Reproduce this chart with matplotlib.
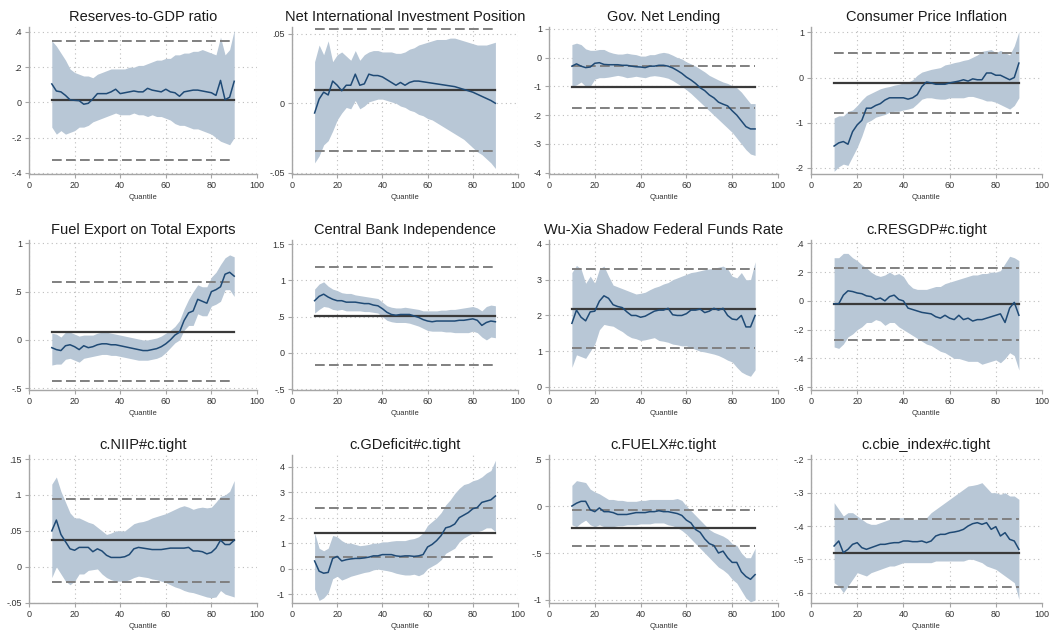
import matplotlib
matplotlib.use("Agg")
import matplotlib.pyplot as plt

plt.rcParams["font.family"] = ["Liberation Sans", "DejaVu Sans"]

# quantiles of the regression (10th .. 90th)
quantiles = list(range(10, 92, 2))

# each panel: quantile coef, lower CI, upper CI, OLS (coef, lo, hi)
resgdp_coef = [0.105, 0.065, 0.06, 0.04, 0.015, 0.012, 0.01, -0.01, -0.005, 0.02,
               0.05, 0.05, 0.05, 0.06, 0.075, 0.05, 0.055, 0.06, 0.065, 0.06,
               0.06, 0.08, 0.07, 0.065, 0.06, 0.075, 0.06, 0.055, 0.035, 0.06,
               0.065, 0.07, 0.07, 0.065, 0.06, 0.055, 0.04, 0.125, 0.015, 0.03,
               0.12]
resgdp_hi = [0.35, 0.32, 0.28, 0.24, 0.19, 0.17, 0.16, 0.15, 0.15, 0.14,
             0.16, 0.17, 0.18, 0.19, 0.19, 0.19, 0.19, 0.2, 0.2, 0.21,
             0.21, 0.22, 0.23, 0.24, 0.24, 0.25, 0.25, 0.27, 0.27, 0.28,
             0.28, 0.29, 0.29, 0.3, 0.29, 0.28, 0.27, 0.37, 0.27, 0.3,
             0.41]
resgdp_lo = [-0.14, -0.18, -0.16, -0.18, -0.17, -0.16, -0.14, -0.14, -0.13, -0.11,
             -0.1, -0.09, -0.08, -0.07, -0.06, -0.07, -0.07, -0.07, -0.06, -0.07,
             -0.07, -0.08, -0.07, -0.08, -0.08, -0.09, -0.1, -0.12, -0.13, -0.13,
             -0.14, -0.15, -0.15, -0.16, -0.17, -0.18, -0.2, -0.22, -0.23, -0.24,
             -0.2]
resgdp_ols = [0.013, -0.326, 0.347]

niip_coef = [-0.007, 0.003, 0.008, 0.006, 0.016, 0.013, 0.009, 0.013, 0.013, 0.021,
             0.013, 0.014, 0.021, 0.02, 0.02, 0.019, 0.017, 0.015, 0.013, 0.015,
             0.013, 0.015, 0.016, 0.016, 0.0155, 0.015, 0.0145, 0.014, 0.0135, 0.013,
             0.0125, 0.012, 0.011, 0.01, 0.009, 0.008, 0.0065, 0.005, 0.0035, 0.002,
             0.0]
niip_hi = [0.03, 0.042, 0.035, 0.045, 0.03, 0.035, 0.037, 0.034, 0.031, 0.038,
           0.031, 0.035, 0.037, 0.038, 0.038, 0.037, 0.037, 0.037, 0.036, 0.036,
           0.037, 0.039, 0.04, 0.042, 0.043, 0.044, 0.045, 0.046, 0.046, 0.046,
           0.047, 0.047, 0.046, 0.045, 0.044, 0.043, 0.042, 0.042, 0.042, 0.043,
           0.044]
niip_lo = [-0.043, -0.038, -0.03, -0.027, -0.02, -0.012, -0.007, -0.003, -0.004, 0.002,
           -0.004, -0.002, 0.001, 0.002, 0.003, 0.003, 0.002, 0.001, 0.0, -0.002,
           -0.003, -0.005, -0.006, -0.008, -0.009, -0.011, -0.012, -0.014, -0.016, -0.018,
           -0.02, -0.022, -0.024, -0.026, -0.029, -0.032, -0.035, -0.037, -0.04, -0.043,
           -0.047]
niip_ols = [0.0096, -0.0344, 0.0534]

gnl_coef = [-0.3, -0.22, -0.3, -0.35, -0.33, -0.2, -0.18, -0.24, -0.25, -0.25,
            -0.25, -0.27, -0.27, -0.3, -0.32, -0.33, -0.35, -0.3, -0.3, -0.27,
            -0.27, -0.3, -0.36, -0.45, -0.55, -0.68, -0.78, -0.9, -1.05, -1.15,
            -1.3, -1.4, -1.55, -1.62, -1.68, -1.85, -2.0, -2.2, -2.4, -2.48,
            -2.48]
gnl_hi = [0.45, 0.5, 0.45, 0.3, 0.25, 0.25, 0.28, 0.28, 0.2, 0.15,
          0.12, 0.12, 0.15, 0.12, 0.1, 0.05, 0.05, 0.1, 0.1, 0.15,
          0.18, 0.15, 0.08, 0.0, -0.05, -0.15, -0.22, -0.3, -0.4, -0.5,
          -0.62, -0.7, -0.78, -0.85, -0.9, -0.98, -1.05, -1.2, -1.4, -1.6,
          -1.6]
gnl_lo = [-1.0, -0.95, -0.85, -1.0, -1.0, -0.75, -0.7, -0.7, -0.68, -0.65,
          -0.62, -0.65, -0.7, -0.68, -0.65, -0.68, -0.7, -0.65, -0.63, -0.65,
          -0.68, -0.72, -0.8, -0.9, -1.0, -1.12, -1.25, -1.4, -1.55, -1.7,
          -1.85, -2.0, -2.15, -2.3, -2.45, -2.6, -2.8, -3.0, -3.2, -3.35,
          -3.4]
gnl_ols = [-1.03, -1.76, -0.29]

cpi_coef = [-1.52, -1.45, -1.42, -1.48, -1.2, -1.05, -0.95, -0.68, -0.68, -0.62,
            -0.58, -0.5, -0.45, -0.45, -0.45, -0.45, -0.48, -0.45, -0.38, -0.2,
            -0.1, -0.12, -0.15, -0.15, -0.15, -0.12, -0.1, -0.08, -0.05, -0.08,
            -0.03, -0.05, -0.05, 0.1, 0.1, 0.05, 0.05, 0.0, -0.05, 0.0,
            0.32]
cpi_hi = [-0.9, -0.85, -0.85, -0.75, -0.72, -0.62, -0.5, -0.4, -0.35, -0.3,
          -0.25, -0.22, -0.2, -0.17, -0.15, -0.12, -0.1, -0.05, 0.05, 0.12,
          0.15, 0.18, 0.2, 0.22, 0.28, 0.3, 0.33, 0.35, 0.38, 0.4,
          0.45, 0.5, 0.58, 0.6, 0.62, 0.55, 0.6, 0.55, 0.5, 0.7,
          1.02]
cpi_lo = [-2.08, -1.98, -1.92, -1.95, -1.75, -1.55, -1.3, -1.0, -0.95, -0.88,
          -0.85, -0.82, -0.77, -0.75, -0.75, -0.72, -0.7, -0.67, -0.58, -0.48,
          -0.45, -0.45, -0.47, -0.48, -0.48, -0.45, -0.45, -0.45, -0.45, -0.42,
          -0.42, -0.45, -0.48, -0.52, -0.52, -0.55, -0.6, -0.65, -0.7, -0.62,
          -0.45]
cpi_ols = [-0.12, -0.78, 0.55]

fuel_coef = [-0.08, -0.1, -0.11, -0.06, -0.05, -0.07, -0.1, -0.06, -0.08, -0.07,
             -0.05, -0.04, -0.04, -0.05, -0.05, -0.06, -0.07, -0.08, -0.09, -0.1,
             -0.11, -0.11, -0.1, -0.09, -0.07, -0.04, 0.0, 0.05, 0.08, 0.2,
             0.28, 0.3, 0.42, 0.4, 0.38, 0.5, 0.52, 0.55, 0.68, 0.7,
             0.66]
fuel_hi = [0.07, 0.06, 0.03, 0.08, 0.08, 0.06, 0.04, 0.05, 0.05, 0.05,
           0.07, 0.08, 0.08, 0.07, 0.06, 0.05, 0.04, 0.03, 0.02, 0.01,
           0.0, 0.0, 0.01, 0.02, 0.04, 0.07, 0.1, 0.14, 0.2, 0.32,
           0.42, 0.5, 0.57, 0.55, 0.55, 0.65, 0.7, 0.78, 0.85, 0.88,
           0.86]
fuel_lo = [-0.26, -0.25, -0.25, -0.2, -0.19, -0.21, -0.23, -0.19, -0.18, -0.17,
           -0.16, -0.15, -0.15, -0.16, -0.16, -0.17, -0.18, -0.19, -0.2, -0.21,
           -0.21, -0.21, -0.2, -0.19, -0.17, -0.13, -0.08, -0.03, 0.0, 0.1,
           0.15, 0.15, 0.27, 0.25, 0.25, 0.35, 0.37, 0.4, 0.52, 0.52,
           0.45]
fuel_ols = [0.083, -0.424, 0.597]

cbi_coef = [0.72, 0.78, 0.81, 0.77, 0.74, 0.72, 0.72, 0.7, 0.7, 0.7,
            0.69, 0.68, 0.68, 0.66, 0.65, 0.61, 0.56, 0.53, 0.52, 0.53,
            0.53, 0.53, 0.51, 0.49, 0.46, 0.44, 0.43, 0.44, 0.44, 0.44,
            0.44, 0.44, 0.45, 0.45, 0.46, 0.47, 0.45, 0.38, 0.42, 0.44,
            0.43]
cbi_hi = [0.88, 0.95, 0.98, 0.92, 0.88, 0.86, 0.83, 0.82, 0.82, 0.8,
          0.79, 0.78, 0.77, 0.76, 0.75, 0.7, 0.65, 0.63, 0.62, 0.62,
          0.63, 0.62, 0.61, 0.6, 0.58, 0.58, 0.58, 0.58, 0.59, 0.59,
          0.6, 0.6, 0.61, 0.62, 0.63, 0.64, 0.62, 0.58, 0.64, 0.66,
          0.65]
cbi_lo = [0.55, 0.6, 0.64, 0.63, 0.6, 0.59, 0.6, 0.58, 0.58, 0.58,
          0.58, 0.57, 0.57, 0.56, 0.55, 0.5, 0.45, 0.43, 0.42, 0.42,
          0.42, 0.41, 0.39, 0.37, 0.34, 0.31, 0.3, 0.3, 0.3, 0.29,
          0.29, 0.28, 0.28, 0.28, 0.28, 0.3, 0.28, 0.22, 0.18, 0.22,
          0.21]
cbi_ols = [0.51, -0.16, 1.18]

wuxia_coef = [1.78, 2.15, 1.95, 1.85, 2.1, 2.12, 2.4, 2.55, 2.48, 2.3,
              2.25, 2.22, 2.1, 2.0, 2.0, 1.95, 1.98, 2.05, 2.12, 2.15,
              2.15, 2.2, 2.02, 2.0, 2.0, 2.05, 2.15, 2.15, 2.18, 2.08,
              2.12, 2.2, 2.15, 2.2, 2.0, 1.9, 1.88, 2.0, 1.68, 1.68,
              2.0]
wuxia_hi = [3.2, 3.4, 3.3, 2.9, 3.1, 2.9, 3.3, 3.38, 3.1, 2.85,
            2.8, 2.75, 2.7, 2.65, 2.6, 2.62, 2.65, 2.72, 2.78, 2.82,
            2.88, 2.92, 3.0, 3.05, 3.1, 3.15, 3.2, 3.22, 3.25, 3.28,
            3.3, 3.32, 3.35, 3.38, 3.3, 3.1, 3.05, 3.2, 3.0, 3.0,
            3.5]
wuxia_lo = [0.55, 0.9, 0.85, 0.8, 1.0, 1.2, 1.6, 1.75, 1.72, 1.7,
            1.62, 1.55, 1.45, 1.38, 1.35, 1.3, 1.32, 1.35, 1.38, 1.3,
            1.28, 1.25, 1.2, 1.18, 1.15, 1.15, 1.1, 1.05, 1.0, 0.98,
            0.95, 0.92, 0.88, 0.82, 0.75, 0.7, 0.55, 0.42, 0.35, 0.3,
            0.48]
wuxia_ols = [2.19, 1.09, 3.29]

resgdp_t_coef = [-0.02, -0.02, 0.04, 0.07, 0.065, 0.055, 0.05, 0.035, 0.03, 0.01,
                 0.02, 0.0, 0.03, 0.04, 0.01, 0.0, -0.05, -0.06, -0.07, -0.08,
                 -0.085, -0.09, -0.11, -0.12, -0.1, -0.12, -0.13, -0.1, -0.13, -0.12,
                 -0.14, -0.13, -0.13, -0.12, -0.11, -0.1, -0.09, -0.15, -0.05, -0.01,
                 -0.1]
resgdp_t_hi = [0.3, 0.3, 0.33, 0.33, 0.3, 0.28, 0.25, 0.23, 0.2, 0.18,
               0.17, 0.18, 0.2, 0.18, 0.19, 0.17, 0.12, 0.09, 0.08, 0.08,
               0.08, 0.09, 0.1, 0.1, 0.12, 0.13, 0.14, 0.15, 0.16, 0.17,
               0.18, 0.18, 0.19, 0.19, 0.2, 0.2, 0.21, 0.26, 0.31, 0.3,
               0.28]
resgdp_t_lo = [-0.32, -0.33, -0.3, -0.25, -0.23, -0.2, -0.18, -0.15, -0.15, -0.13,
               -0.14, -0.17, -0.15, -0.15, -0.18, -0.2, -0.22, -0.24, -0.26, -0.28,
               -0.3, -0.31, -0.33, -0.35, -0.36, -0.38, -0.4, -0.4, -0.41, -0.42,
               -0.42, -0.42, -0.44, -0.43, -0.42, -0.41, -0.43, -0.4, -0.36, -0.38,
               -0.48]
resgdp_t_ols = [-0.025, -0.275, 0.231]

niip_t_coef = [0.05, 0.065, 0.045, 0.035, 0.025, 0.023, 0.027, 0.027, 0.027, 0.021,
               0.025, 0.022, 0.016, 0.013, 0.013, 0.013, 0.014, 0.017, 0.025, 0.027,
               0.026, 0.025, 0.024, 0.024, 0.024, 0.025, 0.026, 0.026, 0.026, 0.026,
               0.027, 0.022, 0.022, 0.021, 0.018, 0.02, 0.026, 0.037, 0.031, 0.031,
               0.037]
niip_t_hi = [0.115, 0.125, 0.105, 0.09, 0.075, 0.068, 0.068, 0.065, 0.062, 0.06,
             0.055, 0.05, 0.045, 0.047, 0.05, 0.05, 0.05, 0.055, 0.06, 0.062,
             0.063, 0.065, 0.068, 0.07, 0.072, 0.074, 0.077, 0.08, 0.083, 0.085,
             0.083, 0.08, 0.082, 0.083, 0.082, 0.083, 0.09, 0.098, 0.1, 0.105,
             0.12]
niip_t_lo = [-0.015, 0.0, -0.01, -0.02, -0.025, -0.02, -0.01, -0.01, -0.005, -0.004,
             -0.003, -0.01, -0.015, -0.018, -0.02, -0.02, -0.02, -0.018, -0.015, -0.013,
             -0.014, -0.015, -0.017, -0.018, -0.02, -0.022, -0.025, -0.028, -0.03, -0.033,
             -0.035, -0.036, -0.038, -0.04, -0.042, -0.043, -0.042, -0.033, -0.038, -0.04,
             -0.042]
niip_t_ols = [0.0376, -0.0205, 0.0943]

gdef_t_coef = [0.3, -0.1, -0.18, -0.15, 0.4, 0.48, 0.3, 0.35, 0.38, 0.4,
               0.4, 0.42, 0.45, 0.5, 0.5, 0.55, 0.55, 0.55, 0.5, 0.48,
               0.5, 0.5, 0.48, 0.5, 0.55, 0.85, 0.95, 1.1, 1.3, 1.6,
               1.65, 1.75, 2.0, 2.1, 2.2, 2.35, 2.4, 2.6, 2.65, 2.7,
               2.85]
gdef_t_hi = [1.4, 0.8, 0.7, 0.8, 1.3, 1.25, 1.1, 1.0, 1.0, 0.95,
             0.9, 0.92, 0.95, 1.0, 1.0, 1.05, 1.05, 1.08, 1.1, 1.1,
             1.1, 1.15, 1.18, 1.25, 1.4, 1.7, 1.85, 2.0, 2.2, 2.5,
             2.7, 2.95, 3.15, 3.3, 3.35, 3.45, 3.5, 3.6, 3.75, 3.85,
             4.25]
gdef_t_lo = [-0.8, -1.25, -1.15, -0.95, -0.4, -0.3, -0.45, -0.38, -0.3, -0.25,
             -0.2, -0.15, -0.12, -0.05, -0.02, -0.05, -0.08, -0.12, -0.18, -0.22,
             -0.25, -0.25, -0.22, -0.28, -0.2, 0.0, 0.1, 0.2, 0.35, 0.6,
             0.7, 0.8, 1.05, 1.2, 1.3, 1.4, 1.45, 1.5, 1.6, 1.6,
             1.45]
gdef_t_ols = [1.39, 0.445, 2.37]

fuel_t_coef = [0.0, 0.03, 0.05, 0.05, -0.04, -0.06, -0.02, -0.06, -0.06, -0.07,
               -0.09, -0.09, -0.09, -0.08, -0.07, -0.07, -0.07, -0.06, -0.06, -0.05,
               -0.06, -0.06, -0.07, -0.08, -0.1, -0.15, -0.18, -0.25, -0.28, -0.35,
               -0.4, -0.42, -0.5, -0.48, -0.55, -0.6, -0.6, -0.7, -0.75, -0.78,
               -0.73]
fuel_t_hi = [0.22, 0.27, 0.26, 0.25, 0.18, 0.15, 0.13, 0.1, 0.07, 0.07,
             0.06, 0.06, 0.05, 0.05, 0.05, 0.06, 0.06, 0.07, 0.07, 0.07,
             0.07, 0.07, 0.07, 0.08, 0.06, 0.0, -0.05, -0.1, -0.15, -0.2,
             -0.25, -0.28, -0.3, -0.32, -0.35, -0.4, -0.42, -0.5, -0.55, -0.55,
             -0.45]
fuel_t_lo = [-0.2, -0.22, -0.18, -0.15, -0.2, -0.22, -0.2, -0.22, -0.22, -0.22,
             -0.21, -0.21, -0.2, -0.2, -0.2, -0.19, -0.19, -0.19, -0.18, -0.18,
             -0.18, -0.2, -0.21, -0.23, -0.26, -0.3, -0.35, -0.4, -0.45, -0.5,
             -0.55, -0.6, -0.65, -0.68, -0.72, -0.78, -0.82, -0.9, -0.98, -1.02,
             -1.0]
fuel_t_ols = [-0.23, -0.426, -0.043]

cbie_t_coef = [-0.46, -0.445, -0.48, -0.47, -0.455, -0.45, -0.465, -0.47, -0.465, -0.46,
               -0.455, -0.455, -0.452, -0.45, -0.45, -0.445, -0.445, -0.447, -0.447, -0.445,
               -0.45, -0.445, -0.43, -0.425, -0.425, -0.42, -0.418, -0.415, -0.41, -0.4,
               -0.393, -0.39, -0.395, -0.39, -0.41, -0.402, -0.43, -0.42, -0.44, -0.445,
               -0.47]
cbie_t_hi = [-0.33, -0.35, -0.37, -0.36, -0.36, -0.37, -0.38, -0.39, -0.395, -0.395,
             -0.39, -0.385, -0.38, -0.38, -0.375, -0.375, -0.375, -0.38, -0.38, -0.38,
             -0.375, -0.36, -0.35, -0.34, -0.33, -0.32, -0.31, -0.3, -0.29, -0.28,
             -0.278, -0.275, -0.27, -0.285, -0.3, -0.3, -0.305, -0.3, -0.31, -0.31,
             -0.32]
cbie_t_lo = [-0.57, -0.58, -0.6, -0.58, -0.56, -0.54, -0.545, -0.55, -0.54, -0.535,
             -0.53, -0.525, -0.52, -0.52, -0.515, -0.51, -0.51, -0.51, -0.51, -0.51,
             -0.51, -0.51, -0.505, -0.505, -0.505, -0.505, -0.505, -0.505, -0.505, -0.5,
             -0.5, -0.505, -0.51, -0.52, -0.525, -0.53, -0.54, -0.55, -0.56, -0.57,
             -0.62]
cbie_t_ols = [-0.48, -0.582, -0.378]

titles = ["Reserves-to-GDP ratio", "Net International Investment Position",
          "Gov. Net Lending", "Consumer Price Inflation",
          "Fuel Export on Total Exports", "Central Bank Independence",
          "Wu-Xia Shadow Federal Funds Rate", "c.RESGDP#c.tight",
          "c.NIIP#c.tight", "c.GDeficit#c.tight", "c.FUELX#c.tight",
          "c.cbie_index#c.tight"]

series = [
    (resgdp_coef, resgdp_lo, resgdp_hi, resgdp_ols),
    (niip_coef, niip_lo, niip_hi, niip_ols),
    (gnl_coef, gnl_lo, gnl_hi, gnl_ols),
    (cpi_coef, cpi_lo, cpi_hi, cpi_ols),
    (fuel_coef, fuel_lo, fuel_hi, fuel_ols),
    (cbi_coef, cbi_lo, cbi_hi, cbi_ols),
    (wuxia_coef, wuxia_lo, wuxia_hi, wuxia_ols),
    (resgdp_t_coef, resgdp_t_lo, resgdp_t_hi, resgdp_t_ols),
    (niip_t_coef, niip_t_lo, niip_t_hi, niip_t_ols),
    (gdef_t_coef, gdef_t_lo, gdef_t_hi, gdef_t_ols),
    (fuel_t_coef, fuel_t_lo, fuel_t_hi, fuel_t_ols),
    (cbie_t_coef, cbie_t_lo, cbie_t_hi, cbie_t_ols),
]

# y ticks (Stata style labels without leading zero)
yticks = [
    ([-0.4, -0.2, 0, 0.2, 0.4], ["-.4", "-.2", "0", ".2", ".4"]),
    ([-0.05, 0, 0.05], ["-.05", "0", ".05"]),
    ([-4, -3, -2, -1, 0, 1], ["-4", "-3", "-2", "-1", "0", "1"]),
    ([-2, -1, 0, 1], ["-2", "-1", "0", "1"]),
    ([-0.5, 0, 0.5, 1], ["-.5", "0", ".5", "1"]),
    ([-0.5, 0, 0.5, 1, 1.5], ["-.5", "0", ".5", "1", "1.5"]),
    ([0, 1, 2, 3, 4], ["0", "1", "2", "3", "4"]),
    ([-0.6, -0.4, -0.2, 0, 0.2, 0.4], ["-.6", "-.4", "-.2", "0", ".2", ".4"]),
    ([-0.05, 0, 0.05, 0.1, 0.15], ["-.05", "0", ".05", ".1", ".15"]),
    ([-1, 0, 1, 2, 3, 4], ["-1", "0", "1", "2", "3", "4"]),
    ([-1, -0.5, 0, 0.5], ["-1", "-.5", "0", ".5"]),
    ([-0.6, -0.5, -0.4, -0.3, -0.2], ["-.6", "-.5", "-.4", "-.3", "-.2"]),
]
ylims = [(-0.406, 0.428), (-0.051, 0.055), (-4.045, 1.06), (-2.14, 1.12),
         (-0.518, 1.034), (-0.51, 1.556), (-0.084, 4.11), (-0.619, 0.423),
         (-0.0504, 0.1556), (-1.35, 4.46), (-1.032, 0.543), (-0.631, -0.187)]

W, H = 1053, 639
col_px = [(29, 257), (292, 518), (549, 778), (811, 1042)]
row_px = [(27, 174), (240, 390), (455, 603)]

FILL = "#b8c7d6"
NAVY = "#1f4a75"

fig = plt.figure(figsize=(W / 100, H / 100), dpi=100)

for i, (coef, lo, hi, ols) in enumerate(series):
    r, c = divmod(i, 4)
    x0, x1 = col_px[c]
    y0, y1 = row_px[r]
    ax = fig.add_axes([x0 / W, 1 - y1 / H, (x1 - x0) / W, (y1 - y0) / H])

    ax.fill_between(quantiles, lo, hi, color=FILL, lw=0, zorder=1)
    ax.plot([quantiles[0], quantiles[-1]], [ols[0], ols[0]], color="#3a3a3a", lw=1.6, zorder=3)
    for v in ols[1:]:
        ax.plot([quantiles[0], quantiles[-1]], [v, v], color="#808080", lw=1.4,
                dashes=(5, 2.2), zorder=3)
    ax.plot(quantiles, coef, color=NAVY, lw=1.1, zorder=4)

    ax.set_xlim(0, 100)
    ax.set_ylim(*ylims[i])
    ax.set_xticks([0, 20, 40, 60, 80, 100])
    ax.set_yticks(yticks[i][0])
    ax.set_yticklabels(yticks[i][1])
    ax.grid(True, linestyle=(0, (1, 3)), color="#bdbdbd", lw=0.8, zorder=0)
    ax.set_axisbelow(True)

    for s in ["top", "right"]:
        ax.spines[s].set_visible(False)
    for s in ["left", "bottom"]:
        ax.spines[s].set_color("#a6a6a6")
        ax.spines[s].set_linewidth(1.0)
    ax.tick_params(length=3, width=0.8, color="#a6a6a6", labelsize=6.5,
                   labelcolor="#333333", pad=2)

    ax.set_title(titles[i], fontsize=10.5, pad=4, color="#1a1a1a")
    ax.set_xlabel("Quantile", fontsize=5.5, labelpad=3, color="#333333")

fig.savefig("out.png", dpi=100, facecolor="white")
